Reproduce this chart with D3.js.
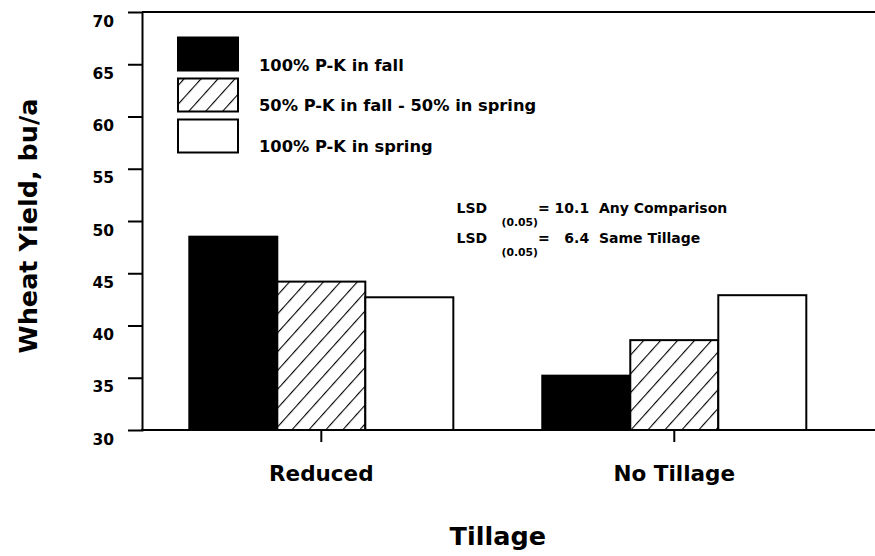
<!DOCTYPE html>
<html>
<head>
<meta charset="utf-8">
<script src="https://cdn.jsdelivr.net/npm/d3@7"></script>
<style>
  html, body { margin: 0; padding: 0; background: #fff; }
  svg { display: block; }
  text { font-family: "DejaVu Sans", sans-serif; font-weight: bold; fill: #000; }
</style>
</head>
<body>
<script>
// ---- data ----
const categories = ["Reduced", "No Tillage"];
const seriesNames = ["100% P-K in fall", "50% P-K in fall - 50% in spring", "100% P-K in spring"];
const fallValues = [48.5, 35.2];
const splitValues = [44.2, 38.6];
const springValues = [42.7, 42.9];
const yTicks = [30, 35, 40, 45, 50, 55, 60, 65, 70];
const lsdLines = [
  { label: "LSD", sub: "(0.05)", eq: "= 10.1", note: "Any Comparison" },
  { label: "LSD", sub: "(0.05)", eq: "=   6.4", note: "Same Tillage" }
];
const yTitle = "Wheat Yield, bu/a";
const xTitle = "Tillage";

const seriesValues = [fallValues, splitValues, springValues];
const fills = ["#000", "url(#hatch)", "#fff"];

const W = 875, H = 556;
const svg = d3.select("body").append("svg").attr("width", W).attr("height", H);

const defs = svg.append("defs");
const pat = defs.append("pattern").attr("id", "hatch")
  .attr("patternUnits", "userSpaceOnUse").attr("width", 12.6).attr("height", 12.6)
  .attr("patternTransform", "rotate(42)");
pat.append("rect").attr("width", 12.6).attr("height", 12.6).attr("fill", "#fff");
pat.append("line").attr("x1", 0).attr("y1", 0).attr("x2", 0).attr("y2", 12.6)
  .attr("stroke", "#000").attr("stroke-width", 2.2);

const plotLeft = 142, plotTop = 12, plotBottom = 430;

const x0 = d3.scaleBand().domain(categories).range([plotLeft, 853.6])
  .paddingInner(0.252).paddingOuter(0.134);
const x1 = d3.scaleBand().domain(d3.range(seriesNames.length)).range([0, x0.bandwidth()]).padding(0);
const y = d3.scaleLinear().domain([30, 70]).range([plotBottom, plotTop]);

// frame top line
svg.append("line").attr("x1", plotLeft).attr("x2", W + 5).attr("y1", plotTop).attr("y2", plotTop)
  .attr("stroke", "#000").attr("stroke-width", 2);

// bars
categories.forEach((c, ci) => {
  seriesValues.forEach((vals, si) => {
    svg.append("rect")
      .attr("x", x0(c) + x1(si))
      .attr("y", y(vals[ci]))
      .attr("width", x1.bandwidth())
      .attr("height", y(30) - y(vals[ci]))
      .attr("fill", fills[si])
      .attr("stroke", "#000").attr("stroke-width", 2);
  });
});

// y axis
const yAxis = svg.append("g").attr("transform", `translate(${plotLeft},0)`)
  .call(d3.axisLeft(y).tickValues(yTicks).tickSize(14).tickPadding(14).tickFormat(d3.format("d")));
yAxis.select(".domain").attr("stroke-width", 2);
yAxis.selectAll(".tick line").attr("stroke-width", 2)
  .attr("display", d => (d === 30 || d === 70) ? "none" : null);
yAxis.selectAll(".tick text").attr("font-size", 15.5).attr("font-family", "DejaVu Sans")
  .attr("font-weight", "bold").attr("dy", null).attr("y", 14);

// x axis
const xAxis = svg.append("g").attr("transform", `translate(0,${plotBottom})`)
  .call(d3.axisBottom(x0).tickSize(12).tickPadding(20));
xAxis.select(".domain").remove();
xAxis.selectAll(".tick line").attr("stroke-width", 2);
xAxis.selectAll(".tick text").attr("font-size", 21.5).attr("font-family", "DejaVu Sans")
  .attr("font-weight", "bold").attr("dy", null).attr("y", 51);
svg.append("line").attr("x1", plotLeft - 1).attr("x2", W + 5).attr("y1", plotBottom).attr("y2", plotBottom)
  .attr("stroke", "#000").attr("stroke-width", 2);

// axis titles
svg.append("text").attr("transform", `translate(37,226) rotate(-90)`)
  .attr("text-anchor", "middle").attr("font-size", 25.5).text(yTitle);
svg.append("text").attr("x", (plotLeft + 853.6) / 2).attr("y", 545)
  .attr("text-anchor", "middle").attr("font-size", 25.5).text(xTitle);

// legend
const legend = svg.append("g");
seriesNames.forEach((name, i) => {
  legend.append("rect").attr("x", 178).attr("y", 37.5 + i * 41).attr("width", 60).attr("height", 33)
    .attr("fill", fills[i]).attr("stroke", "#000").attr("stroke-width", 2);
  legend.append("text").attr("x", 259).attr("y", 70.5 + i * 40.5).attr("font-size", 16.3).text(name);
});

// LSD annotation
lsdLines.forEach((l, i) => {
  const by = 213 + i * 30;
  svg.append("text").attr("x", 456.5).attr("y", by).attr("font-size", 14).text(l.label);
  svg.append("text").attr("x", 501.5).attr("y", by + 13).attr("font-size", 10.8).text(l.sub);
  svg.append("text").attr("x", 538).attr("y", by).attr("font-size", 14)
    .attr("xml:space", "preserve").style("white-space", "pre").text(l.eq + "  " + l.note);
});
</script>
</body>
</html>
